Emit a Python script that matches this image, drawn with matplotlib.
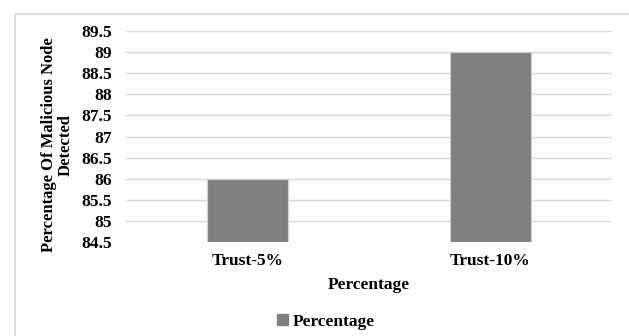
import matplotlib
matplotlib.use("Agg")
import matplotlib.pyplot as plt
from matplotlib.patches import Rectangle, Patch
import numpy as np

# data
categories = ["Trust-5%", "Trust-10%"]
detected = [86.0, 89.0]
yticks = [84.5, 85, 85.5, 86, 86.5, 87, 87.5, 88, 88.5, 89, 89.5]
ytick_labels = ["84.5", "85", "85.5", "86", "86.5", "87", "87.5", "88", "88.5", "89", "89.5"]

plt.rcParams['font.family'] = ['Liberation Serif', 'DejaVu Serif']
plt.rcParams['font.weight'] = 'bold'
fs = 12.5

fig = plt.figure(figsize=(6.29, 3.36), dpi=100)
ax = fig.add_axes([126/629, 1 - 242/336, (612 - 126)/629, (242 - 31)/336])

# outer chart frame
fig.patches.append(Rectangle((15/629, -0.1), 1.0, 1 - 14/336 + 0.1,
                             transform=fig.transFigure, fill=False,
                             edgecolor='#d9d9d9', linewidth=1.2))

x = np.arange(len(categories))
ax.bar(x, [v - yticks[0] for v in detected], bottom=yticks[0], width=0.33,
       color='#808080', edgecolor='#d0d0d0', linewidth=0.8, zorder=3)

ax.set_xlim(-0.5, 1.5)
ax.set_ylim(yticks[0], yticks[-1])
ax.set_yticks(yticks)
ax.set_yticklabels(ytick_labels, fontsize=fs, fontweight='bold')
ax.set_xticks(x)
ax.set_xticklabels(categories, fontsize=fs, fontweight='bold')
ax.tick_params(axis='y', length=0, pad=10)
ax.tick_params(axis='x', length=0, pad=8)
ax.grid(axis='y', color='#d9d9d9', linewidth=1)
for s in ax.spines.values():
    s.set_visible(False)

ax.set_xlabel("Percentage", fontsize=fs, fontweight='bold', labelpad=6)
fig.text(57/629, 1 - 145/336, "Percentage Of Malicious Node\nDetected", rotation=90,
         ha='center', va='center', fontsize=12, fontweight='bold', linespacing=1.05)

fig.legend(handles=[Patch(color='#808080', label='Percentage')],
           loc='center', bbox_to_anchor=(326/629, 1 - 322/336), frameon=False,
           fontsize=fs, handlelength=0.6, handleheight=0.6, handletextpad=0.3)

fig.savefig("out.png", dpi=100)
